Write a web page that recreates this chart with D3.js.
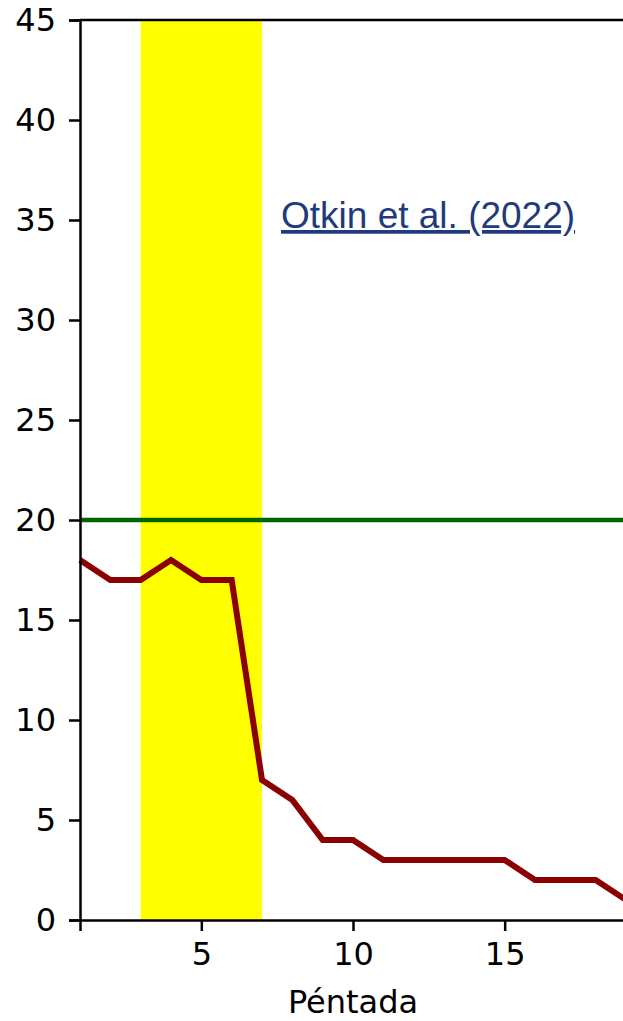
<!DOCTYPE html>
<html>
<head>
<meta charset="utf-8">
<script src="https://cdn.jsdelivr.net/npm/d3@7.9.0/dist/d3.min.js"></script>
<style>
  body { margin: 0; background: #fff; }
  svg { display: block; }
</style>
</head>
<body>
<svg id="chart" width="623" height="1021"></svg>
<script>
// pentads and their values
const pentads = [1, 2, 3, 4, 5, 6, 7, 8, 9, 10, 11, 12, 13, 14, 15, 16, 17, 18, 19];
const values = [18, 17, 17, 18, 17, 17, 7, 6, 4, 4, 3, 3, 3, 3, 3, 2, 2, 2, 1];
const band = [3, 7];       // highlighted span
const threshold = 20;
const yTicks = [0, 5, 10, 15, 20, 25, 30, 35, 40, 45];
const xTicks = [5, 10, 15];
const note = "Otkin et al. (2022)";

const svg = d3.select('#chart');
const padLeft = 80, padTop = 20, padBottom = 920, padRight = 626;

let x = d3.scaleLinear().domain([1, 19]).range([padLeft, padRight]);
let y = d3.scaleLinear().domain([0, 45]).range([padBottom, padTop]);

// yellow band
svg.append('rect')
  .attr('x', x(band[0]))
  .attr('y', y(45))
  .attr('width', x(band[1]) - x(band[0]))
  .attr('height', y(0) - y(45))
  .attr('fill', '#ffff00');

// threshold line
svg.append('line')
  .attr('x1', x(1)).attr('x2', x(19))
  .attr('y1', y(threshold)).attr('y2', y(threshold))
  .attr('stroke', '#006400')
  .attr('stroke-width', 4.5);

// data line
let line = d3.line().x((d, i) => x(pentads[i])).y(d => y(d));
svg.append('path')
  .datum(values)
  .attr('d', line)
  .attr('fill', 'none')
  .attr('stroke', '#8b0000')
  .attr('stroke-width', 6)
  .attr('stroke-linejoin', 'miter');

// annotation
svg.append('text')
  .attr('x', 281)
  .attr('y', 228)
  .attr('font-family', 'Liberation Sans, Arial, sans-serif')
  .attr('font-size', 37)
  .attr('fill', '#1f3b7b')
  .attr('text-decoration', 'underline')
  .text(note);

// axes
let yAxis = svg.append('g')
  .attr('transform', `translate(${padLeft},0)`)
  .call(d3.axisLeft(y).tickValues(yTicks).tickSize(11).tickPadding(13));
let xAxis = svg.append('g')
  .attr('transform', `translate(0,${padBottom})`)
  .call(d3.axisBottom(x).tickValues(xTicks).tickSize(11).tickPadding(11));

[yAxis, xAxis].forEach(g => {
  g.selectAll('.domain').attr('stroke', '#000').attr('stroke-width', 2.5);
  g.selectAll('.tick line').attr('stroke', '#000').attr('stroke-width', 2.5);
  g.selectAll('.tick text')
    .attr('font-family', 'DejaVu Sans, sans-serif')
    .attr('font-size', 32)
    .attr('fill', '#000');
});

// top spine
svg.append('line')
  .attr('x1', padLeft).attr('x2', padRight)
  .attr('y1', padTop).attr('y2', padTop)
  .attr('stroke', '#000').attr('stroke-width', 2.5);

// x label
svg.append('text')
  .attr('x', (padLeft + padRight) / 2)
  .attr('y', 1013)
  .attr('text-anchor', 'middle')
  .attr('font-family', 'DejaVu Sans, sans-serif')
  .attr('font-size', 32)
  .text('Péntada');
</script>
</body>
</html>
